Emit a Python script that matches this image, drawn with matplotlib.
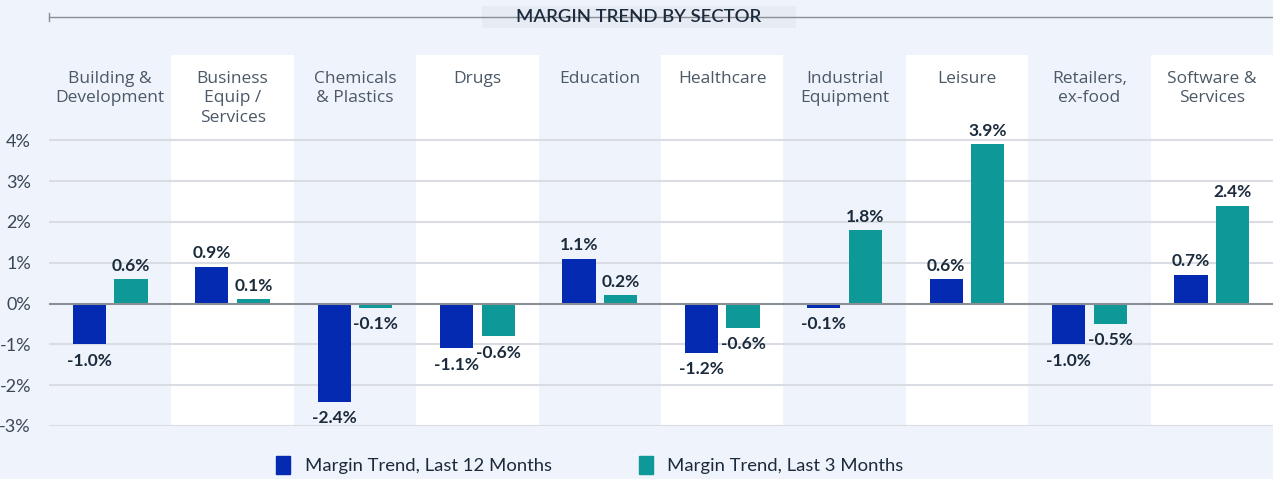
import matplotlib.pyplot as plt
from matplotlib.lines import Line2D
from matplotlib.patches import Patch, Rectangle
import numpy as np

sectors = ['Building &\nDevelopment', 'Business\nEquip /\nServices', 'Chemicals\n& Plastics',
           'Drugs', 'Education', 'Healthcare', 'Industrial\nEquipment', 'Leisure',
           'Retailers,\nex-food', 'Software &\nServices']
last12 = [-1.0, 0.9, -2.4, -1.1, 1.1, -1.2, -0.1, 0.6, -1.0, 0.7]
last3 = [0.6, 0.1, -0.1, -0.8, 0.2, -0.6, 1.8, 3.9, -0.5, 2.4]
labels12 = ['-1.0%', '0.9%', '-2.4%', '-1.1%', '1.1%', '-1.2%', '-0.1%', '0.6%', '-1.0%', '0.7%']
labels3 = ['0.6%', '0.1%', '-0.1%', '-0.6%', '0.2%', '-0.6%', '1.8%', '3.9%', '-0.5%', '2.4%']
yticks = [-3, -2, -1, 0, 1, 2, 3, 4]

bg = '#eff3fb'
blue = '#032ab0'
teal = '#0e9898'
dark = '#1b2b3c'
grey_txt = '#4b5866'

fig = plt.figure(figsize=(12.73, 4.79), dpi=100, facecolor=bg)
ax = fig.add_axes([49 / 1273, 1 - 426 / 479, 1 - 49 / 1273, 371 / 479])
ax.set_facecolor(bg)

x = np.arange(len(sectors))
ymin, ymax = -3, 6.09
ax.set_xlim(-0.5, len(sectors) - 0.5)
ax.set_ylim(ymin, ymax)

# alternating white column bands
for i in x:
    if i % 2 == 1:
        ax.axvspan(i - 0.5, i + 0.5, color='white', zorder=0, lw=0)

for t in yticks:
    if t == 0:
        ax.axhline(t, color='#8a8f96', lw=1.5, zorder=3)
    else:
        ax.axhline(t, color='#d9dce2', lw=1.5, zorder=1)

w = 0.27
off = 0.17
ax.bar(x - off, last12, width=w, color=blue, zorder=2)
ax.bar(x + off, last3, width=w, color=teal, zorder=2)

def put_labels(xs, vals, texts):
    for xi, v, s in zip(xs, vals, texts):
        if v >= 0:
            ax.annotate(s, (xi, v), xytext=(0, 4), textcoords='offset points',
                        ha='center', va='bottom', fontsize=12.5, fontweight='bold',
                        color=dark, family='Lato', zorder=4)
        else:
            ax.annotate(s, (xi, v), xytext=(0, -6), textcoords='offset points',
                        ha='center', va='top', fontsize=12.5, fontweight='bold',
                        color=dark, family='Lato', zorder=4)

put_labels(x - off, last12, labels12)
put_labels(x + off, last3, labels3)

for i, s in enumerate(sectors):
    ax.text(i, 5.70, s, ha='center', va='top', fontsize=12.5, color=grey_txt,
            family='Open Sans', linespacing=1.28)

ax.set_yticks(yticks)
ax.set_yticklabels([f'{t}%' for t in yticks], family='Lato', fontsize=13, color='#3a4756')
ax.tick_params(axis='y', length=0, pad=13)
ax.tick_params(axis='x', bottom=False, labelbottom=False)
for sp in ax.spines.values():
    sp.set_visible(False)

# title line with box
ty = 1 - 17 / 479
fig.add_artist(Line2D([49 / 1273, 1], [ty, ty], color='#8a8f96', lw=1))
fig.add_artist(Line2D([49 / 1273, 49 / 1273], [ty - 0.008, ty + 0.008], color='#8a8f96', lw=1))
fig.add_artist(Rectangle((482 / 1273, 1 - 28 / 479), 314 / 1273, 22 / 479,
                         transform=fig.transFigure, fc='#e7ebf4', ec='none'))
fig.text(639 / 1273, ty, 'MARGIN TREND BY SECTOR',
         ha='center', va='center', fontsize=13.3, color=dark, family='Lato', fontweight='semibold')

handles = [Patch(color=blue), Patch(color=teal)]
fig.legend(handles, ['Margin Trend, Last 12 Months', 'Margin Trend, Last 3 Months'],
           loc='lower center', bbox_to_anchor=(590 / 1273, -0.025), ncol=2, frameon=False,
           prop={'family': 'Lato', 'size': 13.3}, labelcolor=dark,
           handlelength=0.75, handleheight=1.1, columnspacing=4.7, handletextpad=0.8)

fig.savefig('out.png', dpi=100, facecolor=bg)
